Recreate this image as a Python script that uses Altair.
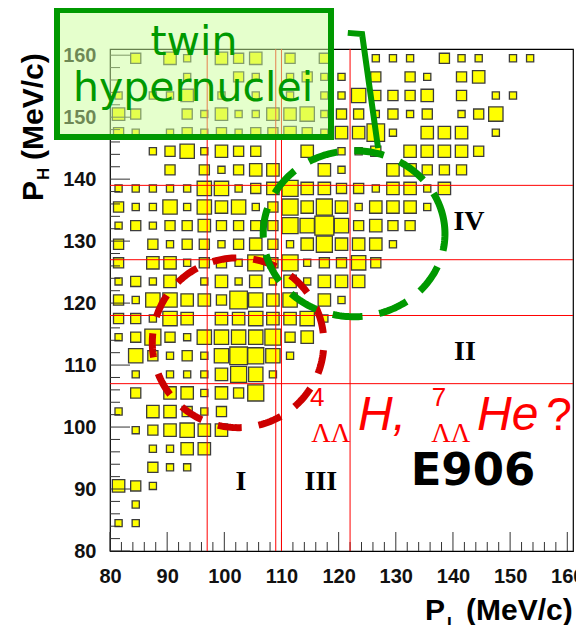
import altair as alt
import numpy as np
import pandas as pd

# ---------------- data ----------------
AXIS_MIN, AXIS_MAX = 80, 161
N_BINS = 27
BIN_WIDTH = 3.0
X_LABELS = [80, 90, 100, 110, 120, 130, 140, 150, 160]
Y_LABELS = [80, 90, 100, 110, 120, 130, 140, 150, 160]
MAJOR_TICKS = [80, 90, 100, 110, 120, 130, 140, 150, 160]
MINOR_TICKS = [v for v in range(82, 160, 2) if v % 10 != 0]

# entries per cell; first row = highest P_H bin (158-161), columns = P_L bins starting at 80
ROWS = [
    [0, 2, 0, 3, 1, 0, 3, 2, 3, 0, 2, 0, 2, 0, 0, 1, 1, 1, 0, 2, 1, 1, 0, 1, 1],
    [0, 0, 0, 0, 1, 0, 0, 2, 1, 0, 1, 2, 1, 1, 0, 2, 0, 2, 1, 0, 2, 3],
    [1, 0, 1, 1, 3, 0, 1, 0, 1, 0, 1, 0, 1, 1, 4, 2, 2, 2, 3, 0, 2, 0, 1, 1],
    [3, 2, 0, 0, 2, 1, 3, 1, 1, 3, 3, 4, 1, 2, 2, 1, 2, 1, 2, 0, 1, 2, 4],
    [2, 1, 0, 1, 2, 1, 2, 1, 2, 2, 3, 2, 1, 3, 3, 6, 1, 0, 3, 3, 3, 0, 1],
    [0, 0, 1, 2, 4, 1, 3, 2, 2, 0, 0, 3, 0, 1, 1, 2, 0, 3, 3, 3, 3, 2],
    [0, 0, 0, 2, 0, 2, 1, 2, 3, 3, 0, 0, 3, 1, 0, 0, 3, 3, 2, 2, 2],
    [1, 1, 1, 1, 1, 4, 4, 1, 2, 3, 5, 3, 3, 2, 2, 1, 3, 3, 1, 3],
    [2, 1, 1, 4, 1, 4, 3, 4, 1, 2, 5, 3, 5, 3, 1, 3, 3, 3, 1],
    [1, 2, 1, 2, 2, 3, 2, 2, 2, 2, 5, 4, 7, 4, 2, 3, 2, 2],
    [2, 0, 2, 1, 2, 2, 1, 2, 3, 2, 1, 3, 5, 3, 3, 3, 1],
    [2, 0, 3, 3, 1, 2, 2, 1, 5, 2, 5, 1, 2, 2, 4, 2],
    [1, 2, 1, 3, 0, 1, 3, 1, 3, 1, 3, 1, 3, 3, 3],
    [2, 1, 4, 4, 3, 3, 2, 6, 4, 3, 4, 0, 3, 1],
    [2, 2, 1, 4, 3, 0, 3, 3, 4, 3, 3, 4, 1],
    [1, 2, 5, 2, 1, 4, 4, 4, 4, 5, 2, 3],
    [0, 4, 2, 1, 2, 1, 4, 6, 5, 4, 1],
    [0, 1, 0, 1, 1, 1, 3, 5, 4, 1],
    [0, 2, 0, 3, 3, 1, 3, 2, 5],
    [1, 0, 3, 3, 2, 1, 2],
    [0, 1, 2, 3, 4, 3, 3],
    [0, 0, 1, 1, 3, 3],
    [0, 0, 2, 1, 1],
    [3, 2, 1],
    [0, 1],
    [1, 1],
    [],
]

CUTS_PL = [97, 109, 110, 122]
CUTS_PH = [107, 118, 127, 139]

# annotation ellipses (centre, radii in MeV/c)
TWIN_ELLIPSE = dict(cx=122.7, cy=131.2, rx=15.9, ry=13.4)
DLH_ELLIPSE = dict(cx=102.4, cy=113.6, rx=15.0, ry=13.7)
CONNECTOR_X = [121.6, 124.1, 126.9]
CONNECTOR_Y = [163.6, 163.4, 145.0]

# ---------------- tables ----------------
recs = []
for r, row in enumerate(ROWS):
    j = N_BINS - 1 - r
    for k, n in enumerate(row):
        if n > 0:
            recs.append({"x": AXIS_MIN + (k + 0.5) * BIN_WIDTH,
                         "y": AXIS_MIN + (j + 0.5) * BIN_WIDTH, "n": n})
boxes_df = pd.DataFrame(recs)


def ellipse_df(e):
    t = np.linspace(0.15, 0.15 + 2 * np.pi, 241)
    return pd.DataFrame({"x": e["cx"] + e["rx"] * np.cos(t),
                         "y": e["cy"] + e["ry"] * np.sin(t),
                         "i": np.arange(len(t))})


xs = alt.Scale(domain=[AXIS_MIN, AXIS_MAX], nice=False, zero=False)
ys = alt.Scale(domain=[AXIS_MIN, AXIS_MAX], nice=False, zero=False)
xaxis = alt.Axis(values=X_LABELS, ticks=False, grid=False, domain=False, title=None,
                 labelFont="Liberation Sans", labelFontWeight="bold", labelFontSize=20,
                 labelColor="#111111", labelPadding=15, labelFlush=False, labelOverlap=False)
yaxis = alt.Axis(values=Y_LABELS, ticks=False, grid=False, domain=False, title=None,
                 labelFont="Liberation Sans", labelFontWeight="bold", labelFontSize=20,
                 labelColor="#111111", labelPadding=14, labelFlush=False, labelOverlap=False)


def X(f="x"):
    return alt.X(f"{f}:Q", scale=xs, axis=xaxis)


def Y(f="y"):
    return alt.Y(f"{f}:Q", scale=ys, axis=yaxis)


H = 502
boxes = alt.Chart(boxes_df).mark_square(
    fill="#ffff00", stroke="#3c3c3c", strokeWidth=1.3, opacity=1
).encode(
    x=X(), y=Y(),
    size=alt.Size("n:Q", scale=alt.Scale(domain=[0, 7], range=[0, 360]), legend=None),
)

xmaj = alt.Chart(pd.DataFrame({"x": MAJOR_TICKS})).mark_rule(color="#333333").encode(
    x=X(), y=alt.value(H), y2=alt.value(H - 19))
xmin = alt.Chart(pd.DataFrame({"x": MINOR_TICKS})).mark_rule(color="#333333").encode(
    x=X(), y=alt.value(H), y2=alt.value(H - 9))
ymaj = alt.Chart(pd.DataFrame({"y": MAJOR_TICKS})).mark_rule(color="#333333").encode(
    y=Y(), x=alt.value(0), x2=alt.value(20))
ymin = alt.Chart(pd.DataFrame({"y": MINOR_TICKS})).mark_rule(color="#333333").encode(
    y=Y(), x=alt.value(0), x2=alt.value(10))

vcuts = alt.Chart(pd.DataFrame({"x": CUTS_PL})).mark_rule(color="#ff0000", strokeWidth=1).encode(x=X())
hcuts = alt.Chart(pd.DataFrame({"y": CUTS_PH})).mark_rule(color="#ff0000", strokeWidth=1).encode(y=Y())

red_ell = alt.Chart(ellipse_df(DLH_ELLIPSE)).mark_line(
    color="#cc0000", strokeWidth=7, strokeDash=[24, 17], clip=False
).encode(x=X(), y=Y(), order="i:Q")
green_ell = alt.Chart(ellipse_df(TWIN_ELLIPSE)).mark_line(
    color="#009900", strokeWidth=7, strokeDash=[30, 17], clip=False
).encode(x=X(), y=Y(), order="i:Q")
connector = alt.Chart(pd.DataFrame({"x": CONNECTOR_X, "y": CONNECTOR_Y, "i": [0, 1, 2]})).mark_line(
    color="#009900", strokeWidth=6, clip=False
).encode(x=X(), y=Y(), order="i:Q")

one = pd.DataFrame({"a": [0]})
gbox = alt.Chart(one).mark_rect(
    fill="#ccff99", fillOpacity=0.5, stroke="#009900", strokeWidth=6
).encode(x=alt.value(-53), x2=alt.value(221), y=alt.value(-39), y2=alt.value(88))
gtext = alt.Chart(pd.DataFrame({"t": ["twin", "hypernuclei"], "px": [84, 83], "py": [6, 52]})).mark_text(
    font="DejaVu Sans", fontSize=41, color="#009900", align="center", baseline="alphabetic"
).encode(x=alt.X("px:Q", scale=None), y=alt.Y("py:Q", scale=None), text="t:N")

roman = alt.Chart(pd.DataFrame({
    "t": ["IV", "II", "I", "III"], "x": [142.8, 142.1, 102.9, 116.9], "y": [131.8, 110.8, 89.8, 89.8]
})).mark_text(font="Liberation Serif", fontWeight="bold", fontSize=28, color="black",
              align="center", baseline="alphabetic").encode(x=X(), y=Y(), text="t:N")
e906 = alt.Chart(pd.DataFrame({"t": ["E906"], "x": [143.5], "y": [90.6]})).mark_text(
    font="DejaVu Sans", fontWeight="bold", fontSize=45, color="black",
    align="center", baseline="alphabetic").encode(x=X(), y=Y(), text="t:N")
supers = alt.Chart(pd.DataFrame({"t": ["4", "7"], "x": [115.0, 136.3], "y": [103.4, 103.4]})).mark_text(
    font="Liberation Sans", fontSize=26, color="#ff0000", align="left", baseline="alphabetic"
).encode(x=X(), y=Y(), text="t:N")
subs = alt.Chart(pd.DataFrame({"t": ["ΛΛ", "ΛΛ"], "x": [115.2, 136.2], "y": [97.6, 97.6]})).mark_text(
    font="Liberation Serif", fontSize=27, color="#ff0000", align="left", baseline="alphabetic"
).encode(x=X(), y=Y(), text="t:N")
nuclei = alt.Chart(pd.DataFrame({"t": ["H,", "He"], "x": [123.4, 144.2], "y": [99.5, 99.5]})).mark_text(
    font="Liberation Sans", fontStyle="italic", fontSize=48, color="#ff0000", align="left",
    baseline="alphabetic").encode(x=X(), y=Y(), text="t:N")
qmark = alt.Chart(pd.DataFrame({"t": ["?"], "x": [156.3], "y": [99.5]})).mark_text(
    font="Liberation Sans", fontSize=46, color="#ff0000", align="left", baseline="alphabetic"
).encode(x=X(), y=Y(), text="t:N")

# axis titles (with subscripts)
xt = alt.Chart(pd.DataFrame({"t": ["P", "(MeV/c)"], "px": [315, 356], "py": [571, 571]})).mark_text(
    font="Liberation Sans", fontWeight="bold", fontSize=30, color="black", align="left",
    baseline="alphabetic").encode(x=alt.X("px:Q", scale=None), y=alt.Y("py:Q", scale=None), text="t:N")
xsub = alt.Chart(pd.DataFrame({"t": ["L"], "px": [337], "py": [580]})).mark_text(
    font="Liberation Sans", fontWeight="bold", fontSize=17, color="black", align="left",
    baseline="alphabetic").encode(x=alt.X("px:Q", scale=None), y=alt.Y("py:Q", scale=None), text="t:N")
yt = alt.Chart(pd.DataFrame({"t": ["P", "(MeV/c)"], "px": [-67, -67], "py": [152, 111]})).mark_text(
    font="Liberation Sans", fontWeight="bold", fontSize=30, color="black", align="left",
    baseline="alphabetic", angle=270).encode(x=alt.X("px:Q", scale=None), y=alt.Y("py:Q", scale=None), text="t:N")
ysub = alt.Chart(pd.DataFrame({"t": ["H"], "px": [-61], "py": [131]})).mark_text(
    font="Liberation Sans", fontWeight="bold", fontSize=17, color="black", align="left",
    baseline="alphabetic", angle=270).encode(x=alt.X("px:Q", scale=None), y=alt.Y("py:Q", scale=None), text="t:N")

chart = alt.layer(
    boxes, xmaj, xmin, ymaj, ymin, vcuts, hcuts, red_ell, green_ell, connector,
    gbox, gtext, roman, e906, supers, subs, nuclei, qmark, xt, xsub, yt, ysub
).resolve_scale(x="shared", y="shared").properties(
    width=463, height=H,
    autosize=alt.AutoSizeParams(type="none"),
    padding={"left": 102, "top": 41, "right": 3, "bottom": 74},
    background="white",
).configure_view(stroke="black", strokeWidth=1.2)

chart.save("out.html", embed_options={"renderer": "svg", "actions": False})
